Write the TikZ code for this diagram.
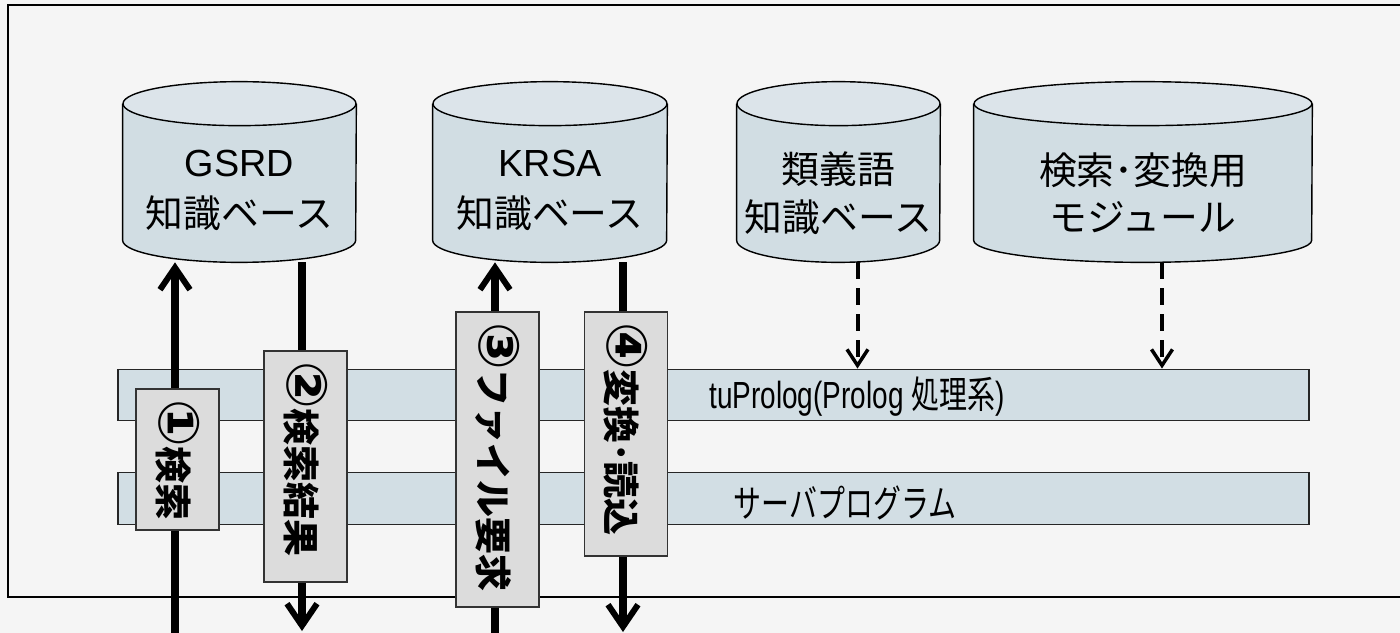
\documentclass[tikz,border=0pt]{standalone}
\usepackage{fontspec}
\setmainfont{Liberation Sans}
\newfontfamily\jp{Noto Sans CJK JP}
\newfontfamily\sym{DejaVu Sans}
\usetikzlibrary{arrows.meta, calc}

\definecolor{paper}{HTML}{F5F5F5}
\definecolor{dbbody}{HTML}{D1DDE3}
\definecolor{dbtop}{HTML}{DCE4EA}
\definecolor{bandfill}{HTML}{D2DEE4}
\definecolor{tagfill}{HTML}{DCDCDC}

% circled step number
\newcommand\stepno[1]{{\sym\fontsize{32}{25}\selectfont #1}}

% cylinder drawn round a named box: body, then the lid
\newcommand\dbshape[2]{%
  \path[dbline, fill=dbbody] ([yshift=-4.4mm]#1.north west) -- ([yshift=4.4mm]#1.south west)
    arc[start angle=180, end angle=360, x radius=#2, y radius=4.4mm]
    -- ([yshift=-4.4mm]#1.north east);
  \path[dbline, fill=dbtop] ([yshift=-4.4mm]#1.north) ellipse[x radius=#2, y radius=4.4mm];
}

\tikzset{
  dbbox/.style={rectangle, minimum height=36mm, inner sep=0pt},
  dbline/.style={draw, line width=0.8pt},
  dbtext/.style={align=center, inner sep=0pt, font=\fontsize{21.5}{29}\selectfont},
  band/.style={draw=black!85, line width=0.8pt, fill=bandfill, minimum width=238.2mm, minimum height=10.3mm},
  bandtext/.style={inner sep=0pt, font=\fontsize{21.5}{26}\selectfont},
  tag/.style={draw=black!80, line width=1pt, fill=tagfill, rotate=-90, minimum height=16.6mm,
    inner xsep=2mm, align=left, font=\jp\bfseries\fontsize{21}{25}\selectfont},
  flow/.style={line width=1.6mm, -{Straight Barb[length=4.4mm, width=6mm, line width=1.2mm]}},
  dep/.style={line width=0.8mm, dash pattern=on 3.4mm off 1.8mm,
    -{Straight Barb[length=3.2mm, width=4.2mm, line width=0.7mm]}}
}

\begin{document}
\begin{tikzpicture}[x=0.2mm, y=-0.2mm]
  \path[use as bounding box, clip] (0,0) rectangle (1400,633);
  \fill[paper] (0,0) rectangle (1400,633);

  % frame, open to the right
  \draw[line width=0.45mm] (1420,5) -- (8,5) -- (8,597) -- (1420,597);

  % data stores
  \node[dbbox, minimum width=46.6mm] (gsrd) at (239.5,172) {};
  \node[dbbox, minimum width=46.8mm] (krsa) at (550,172) {};
  \node[dbbox, minimum width=40.6mm] (syn) at (838.5,172) {};
  \node[dbbox, minimum width=67.6mm] (module) at (1143,172) {};
  \dbshape{gsrd}{23.3mm}
  \dbshape{krsa}{23.4mm}
  \dbshape{syn}{20.3mm}
  \dbshape{module}{33.8mm}

  \node[dbtext] at ([yshift=-3.6mm]gsrd.center) {GSRD\\\jp 知識ベース};
  \node[dbtext] at ([yshift=-3.6mm]krsa.center) {KRSA\\\jp 知識ベース};
  \node[dbtext, font=\jp\fontsize{21.5}{27}\selectfont] at ([yshift=-4.2mm]syn.center) {類義語\\知識ベース};
  \node[dbtext, font=\jp\fontsize{21.5}{27}\selectfont] at ([yshift=-4.2mm]module.center) {検索･変換用\\モジュール};

  % layers
  \node[band] (prolog) at (713.5,395) {};
  \node[band] (server) at (713.5,498.5) {};
  \node[bandtext] at (857,397) {\scalebox{0.74}[1]{tuProlog(Prolog {\jp 処理系})}};
  \node[bandtext] at (845,503) {\scalebox{0.74}[1]{\jp サーバプログラム}};

  % requests and replies
  \coordinate (in1) at (175,660);
  \coordinate (out2) at (302,631);
  \coordinate (in3) at (495,660);
  \coordinate (out4) at (623,632);
  \draw[flow] (in1) -- (in1 |- gsrd.south);
  \draw[flow] (out2 |- gsrd.south) -- (out2);
  \draw[flow] (in3) -- (in3 |- krsa.south);
  \draw[flow] (out4 |- krsa.south) -- (out4);

  \coordinate (syn-out) at ([xshift=3.8mm]syn.south);
  \coordinate (module-out) at ([xshift=3.8mm]module.south);
  \draw[dep] (syn-out) -- (syn-out |- prolog.north);
  \draw[dep] (module-out) -- (module-out |- prolog.north);

  % step labels
  \node[tag, text width=24.2mm] (step1) at (177.5,459.5) {\stepno{①}検索};
  \node[tag, text width=42.2mm] (step2) at (305.5,466.5) {\stepno{②}検索結果};
  \node[tag, text width=55mm] (step3) at (497.5,459.5) {\stepno{③}ファイル要求};
  \node[tag, text width=44.8mm] (step4) at (626,434) {\stepno{④}変換･読込};
\end{tikzpicture}
\end{document}
